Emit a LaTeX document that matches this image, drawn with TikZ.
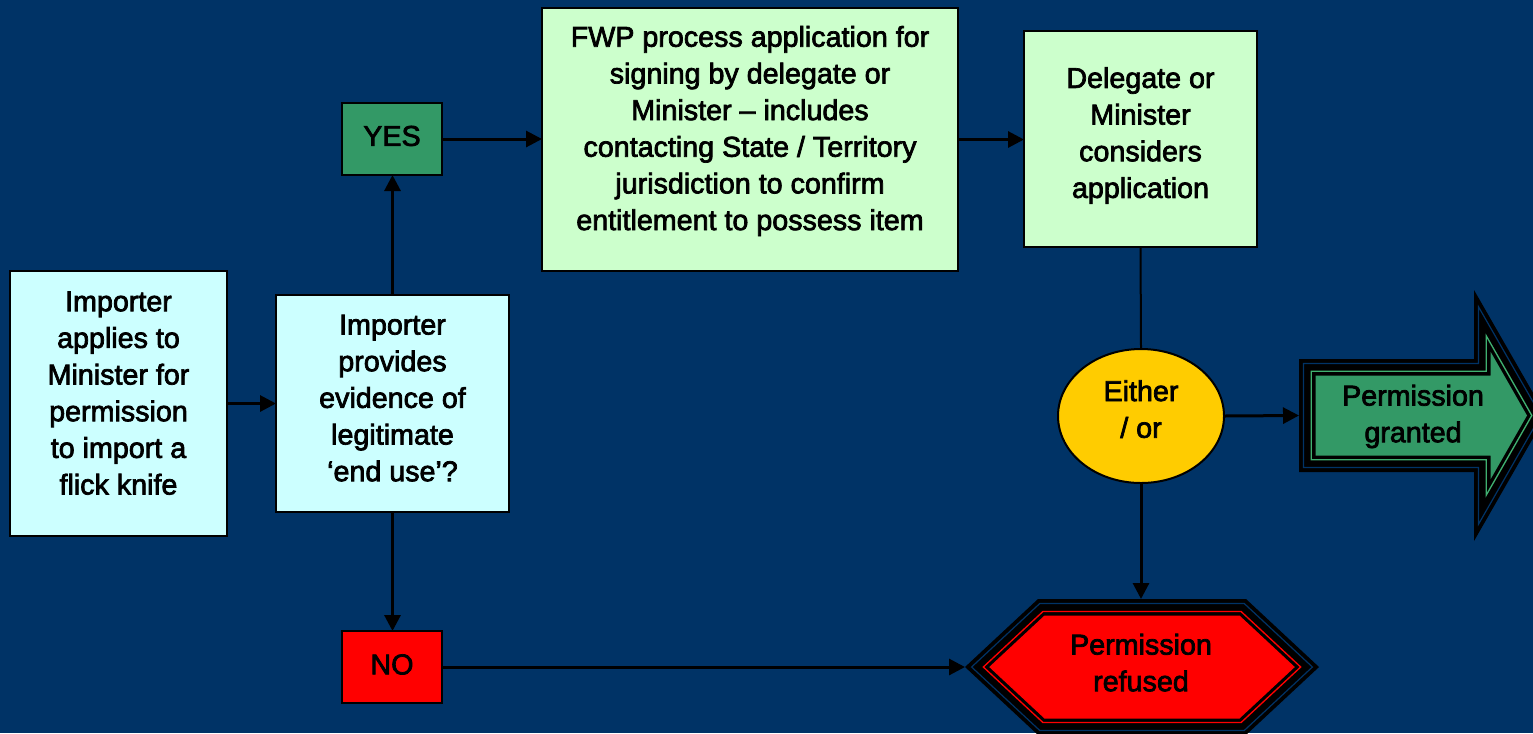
\documentclass[tikz,border=0pt]{standalone}
\usepackage{fontspec}
\setmainfont{Liberation Sans}[FakeBold=2.5]
\usetikzlibrary{shapes.geometric,arrows.meta}
\definecolor{bgblue}{HTML}{003366}
\definecolor{cyanbox}{HTML}{CCFFFF}
\definecolor{greenbox}{HTML}{CCFFCC}
\definecolor{darkgreen}{HTML}{339966}
\definecolor{greenline}{HTML}{40B070}
\definecolor{redfill}{HTML}{FF0000}
\definecolor{goldfill}{HTML}{FFCC00}
\newcommand\lblfont{\fontsize{21.5pt}{27.5pt}\selectfont}
\newcommand\garrowpath[1]{({1299+#1},{359+#1}) -- ({1474+#1},{359+#1}) -- ({1474+#1},{290+3.74*#1}) -- ({1546-1.154*#1},415.5) -- ({1474+#1},{541-3.74*#1}) -- ({1474+#1},{472-#1}) -- ({1299+#1},{472-#1}) -- cycle}
\newcommand\hexpath[1]{({965+1.467*#1},667) -- ({1038+0.394*#1},{599+#1}) -- ({1246-0.394*#1},{599+#1}) -- ({1319-1.467*#1},667) -- ({1246-0.394*#1},{735-#1}) -- ({1038+0.394*#1},{735-#1}) -- cycle}
\tikzset{
  box/.style={draw=black, line width=1.5pt, inner sep=0pt, outer sep=0pt},
  lbl/.style={align=center, font=\lblfont, text=black, inner sep=0pt,
    execute at begin node=\strut, execute at end node=\strut},
  conn/.style={draw=black, line width=2.25pt, -{Triangle[length=12pt,width=12pt]}},
  plainline/.style={draw=black, line width=1.5pt},
}
\begin{document}
\begin{tikzpicture}[x=0.75pt,y=-0.75pt]
\useasboundingbox (0,0) rectangle (1533,733);
\fill[bgblue] (0,0) rectangle (1533,733);

% boxes
\node[box, fill=cyanbox, minimum width={217*0.75pt}, minimum height={265*0.75pt}] (b1) at (118.5,403.5) {};
\node[box, fill=cyanbox, minimum width={233*0.75pt}, minimum height={217*0.75pt}] (b2) at (392.5,403.5) {};
\node[box, fill=darkgreen, minimum width={100*0.75pt}, minimum height={72*0.75pt}] (yes) at (392,139) {};
\node[box, fill=redfill, minimum width={100*0.75pt}, minimum height={72*0.75pt}] (no) at (392,667) {};
\node[box, fill=greenbox, minimum width={416*0.75pt}, minimum height={263*0.75pt}] (fwp) at (750,139.5) {};
\node[box, fill=greenbox, minimum width={233*0.75pt}, minimum height={216*0.75pt}] (del) at (1140.5,139) {};
\node[box, ellipse, fill=goldfill, minimum width={166*0.75pt}, minimum height={134*0.75pt}] (ell) at (1141,416) {};

% permission granted arrow
\fill[black] \garrowpath{0};
\draw[bgblue, line width=0.9pt] \garrowpath{4.5};
\draw[greenline, line width=1pt] \garrowpath{12.3};
\fill[darkgreen] \garrowpath{16.5};
\coordinate (granted-w) at (1299,415.5);

% permission refused hexagon
\fill[black] \hexpath{0};
\draw[bgblue, line width=0.9pt] \hexpath{4.5};
\draw[redfill, line width=1pt] \hexpath{12.5};
\fill[redfill] \hexpath{16.5};
\coordinate (refused-n) at (1141,599);
\coordinate (refused-w) at (965,667);

% labels
\node[lbl] (b1-t) at (118.5,398.5) {Importer\\applies to\\Minister for\\permission\\to import a\\flick knife};
\node[lbl] (b2-t) at (392.5,403.5) {Importer\\provides\\evidence of\\legitimate\\‘end use’?};
\node[lbl] (yes-t) at (392,138.5) {YES};
\node[lbl] (no-t) at (392,667) {NO};
\node[lbl] (fwp-t) at (750,133.5) {FWP process application for\\signing by delegate or\\Minister – includes\\contacting State / Territory\\jurisdiction to confirm\\entitlement to possess item};
\node[lbl] (del-t) at (1140.5,138) {Delegate or\\Minister\\considers\\application};
\node[lbl] (ell-t) at (1141,414.5) {Either\\/ or};
\node[lbl] (granted-t) at (1413,419) {Permission\\granted};
\node[lbl] (refused-t) at (1141,668) {Permission\\refused};

% connectors
\draw[conn] (b1.east) -- (b2.west);
\draw[conn] (b2.north) -- (b2.north |- yes.south);
\draw[conn] (b2.south) -- (b2.south |- no.north);
\draw[conn] (yes.east) -- (fwp.west |- yes.east);
\draw[conn] (fwp.east) -- (del.west |- fwp.east);
\draw[plainline] (del.south) -- (ell.north);
\draw[conn] (ell.east) -- (granted-w);
\draw[conn] (ell.south) -- (refused-n);
\draw[conn] (no.east) -- (refused-w);
\end{tikzpicture}
\end{document}
